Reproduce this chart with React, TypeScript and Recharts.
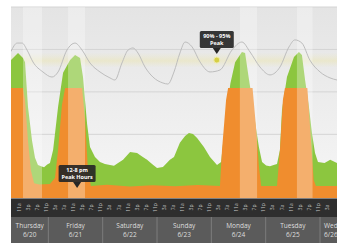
import {
  ComposedChart,
  Area,
  Line,
  XAxis,
  YAxis,
  CartesianGrid,
  ReferenceArea,
  ReferenceDot,
} from "recharts";

// hours counted from Thursday 0:00
const X_MIN = 7.5;
const X_MAX = 151.5;

const loadHours = [
  7.5, 10.6, 12.8, 13.7, 15.0, 16.8, 18.1, 19.4, 20.8, 22.1, 23.5, 24.7, 26.1, 28.3, 30.5,
  33.6, 35.8, 38.0, 39.3, 41.1, 42.4, 44.6, 46.8, 49.0, 51.2, 53.0, 54.8, 57.0, 60.1, 63.2,
  65.4, 67.6, 69.8, 72.0, 74.6, 77.7, 79.5, 82.1, 84.4, 86.1, 87.9, 89.7, 92.7, 95.4, 98.5,
  100.3, 102.3, 104.4, 106.5, 109.5, 110.9, 112.6, 113.9, 115.7, 117.0, 118.4, 120.2, 121.9,
  123.5, 125.0, 126.3, 127.2, 129.4, 132.5, 134.7, 136.0, 137.4, 139.1, 140.5, 141.8, 143.1,
  146.0, 148.5, 151.5,
];
const loadValues = [
  65, 68.3, 66, 64, 43, 27, 19, 15.6, 15, 14.5, 15.8, 16.5, 22.6, 43, 59,
  65, 67.4, 66, 57, 35, 24, 19.3, 17, 16, 15.5, 15.2, 16.5, 18, 21.7, 21.2,
  19.5, 18, 16, 14.1, 14.6, 18, 19.3, 26, 29.2, 30.6, 30.2, 28.3, 24, 19.3, 15.5,
  17, 37, 54, 64, 68.8, 68.3, 56, 47, 33, 24, 17, 15.3, 15,
  15.6, 16, 22.6, 41.5, 57, 66.4, 68.8, 67.4, 55.6, 43, 30, 21.2, 17,
  16.5, 18, 16.5,
];

const gridHours = [
  7.5, 12.8, 13.7, 15.0, 16.3, 17.7, 20.0, 24.7, 26.9, 28.3, 30.0, 31.4, 38.9, 40.2, 41.5,
  42.8, 50, 60, 70, 80, 90, 99.8, 100.7, 102.5, 103.4, 114.2, 115.6, 117.0, 118.0, 125.0,
  126.3, 127.6, 128.5, 138.4, 139.8, 141.2, 142.2, 151.5,
];
const gridValues = [
  51.8, 51.8, 46, 27, 13, 7, 6.4, 6.6, 9.4, 22.6, 43.8, 51.8, 51.8, 36.8, 13.2,
  5.7, 6.2, 5.4, 6, 5.5, 6.1, 5.7, 22.6, 46.2, 51.8, 51.8, 35, 15, 5.7, 5.7,
  22.6, 46.2, 51.8, 51.8, 30, 8.5, 5.7, 5.7,
];

const tempHours = [
  7.5, 10.2, 12.4, 14.6, 17.2, 21.6, 25.6, 28.3, 32.2, 35.8, 38.9, 42.4, 46.8, 51.2, 53.4,
  56.5, 59.2, 61.4, 63.6, 66.7, 70.2, 74.6, 76.8, 79.5, 82.1, 84.4, 87.5, 91.0, 95.4, 99.8,
  105.1, 109.5, 113.1, 117.5, 121.9, 126.3, 130.3, 132.9, 136.0, 139.5, 144.0, 148.4, 151.5,
];
const tempValues = [
  69, 73, 73, 69.7, 64.1, 59.4, 57, 59.4, 69.7, 73, 69.7, 63.6, 59.4, 56.6, 55.6,
  63.6, 69.7, 70.7, 68.3, 61.7, 57, 54.2, 53.7, 59.4, 68.3, 73.5, 71.2, 64.1, 59.4, 60.3,
  69.7, 73.5, 68.8, 61.7, 58, 61.7, 71.2, 74.5, 73, 65, 59.4, 56.6, 55.6,
];

const peakStarts = [12.8, 32.7, 108.6, 133.8];
const peakEnds = [21.2, 40.2, 116.2, 140.7];

const dayStarts = [7.5, 24, 48, 72, 96, 120, 144];
const dayNames = ["Thursday", "Friday", "Saturday", "Sunday", "Monday", "Tuesday", "Wednesday"];
const dayDates = ["6/20", "6/21", "6/22", "6/23", "6/24", "6/25", "6/26"];
const hourLabels = ["3a", "7a", "11a", "3p", "7p", "11p"];
const yTicks = [0, 10, 20, 30, 40, 50, 60, 70, 80, 90];

const FONT = "'Open Sans', 'DejaVu Sans', sans-serif";

const hourTicks: number[] = [];
for (let h = 11; h <= X_MAX - 3; h += 4) hourTicks.push(h);

type DayTick = { value: number; kind: "sep" | "label"; index: number; anchor: "middle" | "start" };
const dayTicks: DayTick[] = [];
dayStarts.forEach((start, i) => {
  const end = i + 1 < dayStarts.length ? dayStarts[i + 1] : X_MAX;
  if (i > 0) dayTicks.push({ value: start, kind: "sep", index: i, anchor: "middle" });
  if (end - start < 10) {
    dayTicks.push({ value: start + 1.8, kind: "label", index: i, anchor: "start" });
  } else {
    dayTicks.push({ value: (start + end) / 2, kind: "label", index: i, anchor: "middle" });
  }
});

function HourTick(props: any) {
  const { x, y, payload } = props;
  const label = hourLabels[((payload.value % 24) - 3) / 4];
  const cy = y + 9.5;
  return (
    <text
      x={x}
      y={cy}
      transform={`rotate(-90, ${x}, ${cy})`}
      textAnchor="middle"
      dominantBaseline="central"
      fontSize={5}
      fontFamily={FONT}
      fill="#c4c4c4"
    >
      {label}
    </text>
  );
}

function DayTickMark(props: any) {
  const { x, y, payload } = props;
  const t = dayTicks.find((d) => Math.abs(d.value - payload.value) < 0.01);
  if (!t) return null;
  if (t.kind === "sep") {
    return <line x1={x} x2={x} y1={y} y2={y + 26} stroke="#7c7c7c" strokeWidth={1} />;
  }
  return (
    <g fontFamily={FONT} fontSize={6.5} fill="#dedede" textAnchor={t.anchor}>
      <text x={x} y={y + 11}>{dayNames[t.index]}</text>
      <text x={x} y={y + 20}>{dayDates[t.index]}</text>
    </g>
  );
}

function Callout(props: any) {
  const { cx, cy, lines, w, dot } = props;
  const tip = dot ? cy - 6 : cy;
  const h = 17;
  return (
    <g>
      {dot && <circle cx={cx} cy={cy} r={3} fill="#d6cf45" stroke="#efeba8" strokeWidth={1} />}
      <rect x={cx - w / 2} y={tip - 6 - h} width={w} height={h} rx={1.5} fill="#262626" fillOpacity={0.92} />
      <path d={`M${cx - 4},${tip - 6} L${cx + 4},${tip - 6} L${cx},${tip} Z`} fill="#262626" />
      <text x={cx} y={tip - 6 - h + 7} textAnchor="middle" fontSize={5.5} fontWeight="bold" fontFamily={FONT} fill="#fff">
        {lines[0]}
      </text>
      <text x={cx} y={tip - 6 - h + 14} textAnchor="middle" fontSize={5.5} fontWeight="bold" fontFamily={FONT} fill="#fff">
        {lines[1]}
      </text>
    </g>
  );
}

export default function App() {
  const load = loadHours.map((h, i) => ({ h, v: loadValues[i] }));
  const grid = gridHours.map((h, i) => ({ h, v: gridValues[i] }));
  const temp = tempHours.map((h, i) => ({ h, v: tempValues[i] }));

  return (
    <div style={{ position: "absolute", left: 0, top: 0, width: 337, height: 243, background: "#fff", overflow: "hidden" }}>
      <div style={{ position: "absolute", left: 11, top: 198, width: 326, height: 19, background: "#2e2e2e" }} />
      <div style={{ position: "absolute", left: 11, top: 217, width: 326, height: 26, background: "#5b5b5b" }} />
      <div style={{ position: "absolute", left: 0, top: 0 }}>
        <ComposedChart width={337} height={243} margin={{ top: 7, right: 0, bottom: 0, left: 11 }}>
          <defs>
            <linearGradient id="plotBg" x1="0" y1="0" x2="0" y2="1">
              <stop offset="0%" stopColor="#e4e4e4" />
              <stop offset="100%" stopColor="#f6f6f6" />
            </linearGradient>
            <linearGradient id="peakBand" x1="0" y1="0" x2="0" y2="1">
              <stop offset="0%" stopColor="#ece7b4" stopOpacity={0} />
              <stop offset="55%" stopColor="#ebe5ad" stopOpacity={0.95} />
              <stop offset="100%" stopColor="#ece7b4" stopOpacity={0} />
            </linearGradient>
          </defs>
          <CartesianGrid xAxisId="a" vertical={false} stroke="#d4d4d4" fill="url(#plotBg)" />
          <XAxis
            xAxisId="b"
            type="number"
            dataKey="h"
            domain={[X_MIN, X_MAX]}
            allowDataOverflow
            ticks={dayTicks.map((d) => d.value)}
            interval={0}
            height={26}
            axisLine={false}
            tickLine={false}
            tickSize={0}
            tickMargin={0}
            tick={(p: any) => <DayTickMark {...p} />}
          />
          <XAxis
            xAxisId="a"
            type="number"
            dataKey="h"
            domain={[X_MIN, X_MAX]}
            allowDataOverflow
            ticks={hourTicks}
            interval={0}
            height={19}
            axisLine={false}
            tickLine={false}
            tickSize={0}
            tickMargin={0}
            tick={(p: any) => <HourTick {...p} />}
          />
          <YAxis hide domain={[0, 90]} ticks={yTicks} />
          <ReferenceArea xAxisId="a" y1={61.5} y2={68.5} fill="url(#peakBand)" stroke="none" />
          <Line
            xAxisId="a"
            data={temp}
            dataKey="v"
            type="monotone"
            stroke="#bdbdbd"
            strokeWidth={1}
            dot={false}
            isAnimationActive={false}
          />
          <Area
            xAxisId="a"
            data={load}
            dataKey="v"
            type="linear"
            stroke="none"
            fill="#8cc63f"
            fillOpacity={1}
            isAnimationActive={false}
          />
          <Area
            xAxisId="a"
            data={grid}
            dataKey="v"
            type="linear"
            stroke="none"
            fill="#f08d2e"
            fillOpacity={1}
            isAnimationActive={false}
          />
          {peakStarts.map((s, i) => (
            <ReferenceArea key={i} xAxisId="a" x1={s} x2={peakEnds[i]} fill="#ffffff" fillOpacity={0.3} stroke="none" />
          ))}
          <ReferenceDot
            xAxisId="a"
            x={98.4}
            y={65}
            r={0}
            shape={(p: any) => <Callout {...p} lines={["90% - 95%", "Peak"]} w={34} dot />}
          />
          <ReferenceDot
            xAxisId="a"
            x={36.7}
            y={4.7}
            r={0}
            shape={(p: any) => <Callout {...p} lines={["12-8 pm", "Peak Hours"]} w={37} />}
          />
        </ComposedChart>
      </div>
    </div>
  );
}
